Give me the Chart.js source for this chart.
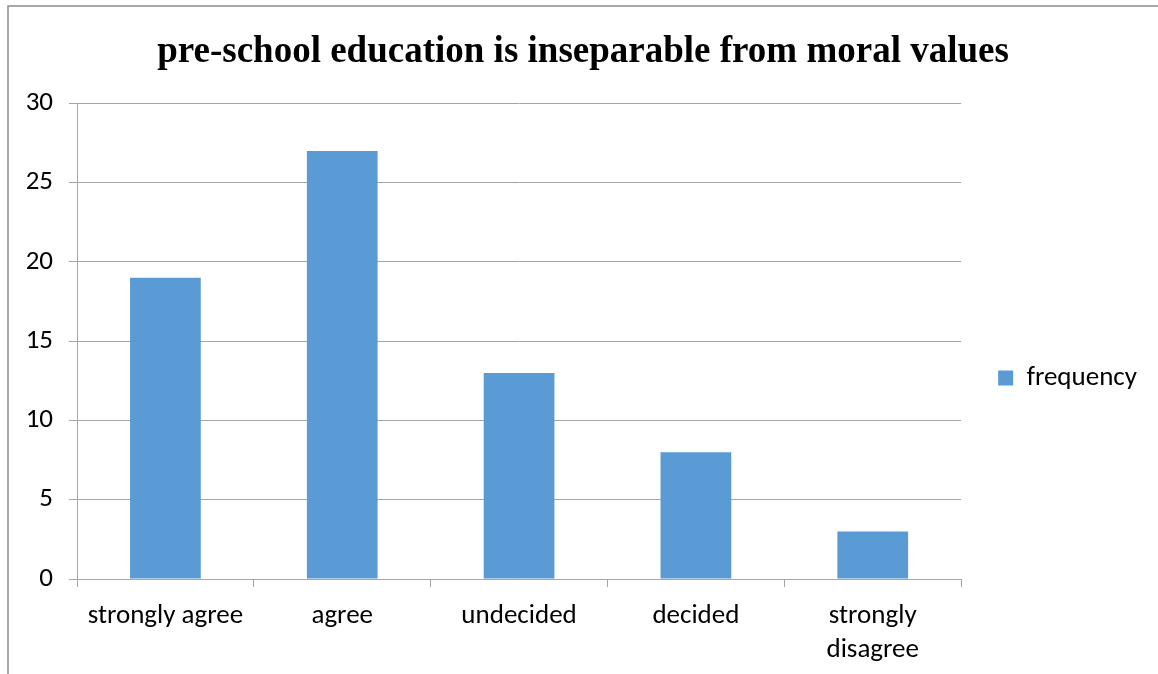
<!DOCTYPE html>
<html>
<head>
<meta charset="utf-8">
<script src="https://cdn.jsdelivr.net/npm/chart.js@4/dist/chart.umd.min.js"></script>
<style>
  html, body { margin: 0; padding: 0; background: #fff; }
  #wrap { width: 1158px; height: 674px; position: relative; }
</style>
</head>
<body>
<div id="wrap"><canvas id="chart"></canvas></div>
<script>
// survey answers
const categories = ['strongly agree', 'agree', 'undecided', 'decided', ['strongly', 'disagree']];
const frequency = [19, 27, 13, 8, 3];
const yTicks = [0, 5, 10, 15, 20, 25, 30];

const labelFont = { family: 'Carlito, Lato, sans-serif', size: 27, lineHeight: 1.26 };
const gridColor = '#a6a6a6';

// thin frame along the top and left edges
const framePlugin = {
    id: 'frame',
    beforeDraw(chart) {
        const ctx = chart.ctx;
        ctx.save();
        ctx.strokeStyle = '#8c8c8c';
        ctx.lineWidth = 1.5;
        ctx.beginPath();
        ctx.moveTo(8, chart.height);
        ctx.lineTo(8, 6);
        ctx.lineTo(chart.width, 6);
        ctx.stroke();
        ctx.restore();
    }
};

new Chart(document.getElementById('chart'), {
    type: 'bar',
    data: {
        labels: categories,
        datasets: [{
            label: 'frequency',
            data: frequency,
            backgroundColor: '#5b9bd5',
            categoryPercentage: 1,
            barPercentage: 0.4
        }]
    },
    options: {
        responsive: true,
        maintainAspectRatio: false,
        animation: false,
        layout: { padding: { left: 19, top: 6, right: 11, bottom: 0 } },
        plugins: {
            title: {
                display: true,
                text: 'pre-school education is inseparable from moral values',
                color: '#000',
                font: { family: '"Liberation Serif", "Times New Roman", serif', size: 37, weight: 'bold' },
                padding: { top: 24, bottom: 29 }
            },
            legend: {
                position: 'right',
                // empty title only pushes the entry a little below the middle
                title: { display: true, text: ' ', font: { size: 1 }, padding: { top: 0, bottom: 75 } },
                labels: {
                    color: '#000',
                    font: labelFont,
                    boxWidth: 15,
                    boxHeight: 15,
                    padding: 37
                }
            },
            tooltip: { enabled: false }
        },
        scales: {
            x: {
                grid: {
                    offset: true,
                    drawOnChartArea: false,
                    drawTicks: true,
                    tickLength: 8,
                    color: gridColor
                },
                border: { display: true, color: gridColor },
                ticks: {
                    color: '#000',
                    font: labelFont,
                    maxRotation: 0,
                    autoSkip: false,
                    padding: 12
                },
                afterFit(scale) { scale.height = 95; }
            },
            y: {
                min: 0,
                max: 30,
                afterBuildTicks(scale) { scale.ticks = yTicks.map(v => ({ value: v })); },
                grid: { color: gridColor, tickLength: 8 },
                border: { display: true, color: gridColor },
                ticks: {
                    color: '#000',
                    font: labelFont,
                    padding: 16
                },
                afterFit(scale) { scale.width = 58; }
            }
        }
    },
    plugins: [framePlugin]
});
</script>
</body>
</html>
